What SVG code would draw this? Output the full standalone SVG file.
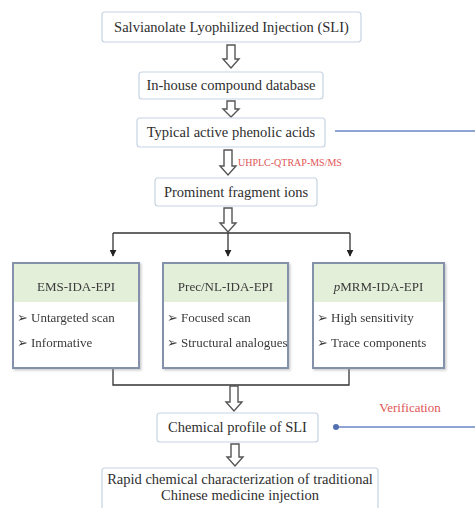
<svg xmlns="http://www.w3.org/2000/svg" width="475" height="508" viewBox="0 0 475 508">
<defs>
<style>
.box{fill:#ffffff;stroke:#c5d3e3;stroke-width:1.2;}
.mbox{fill:#ffffff;stroke:#8391ab;stroke-width:2;}
.hdr{fill:#e3efd8;}
.t{font-family:"Liberation Serif","Times New Roman",serif;font-size:14.5px;fill:#2e2e2e;text-anchor:middle;}
.h{font-family:"Liberation Serif","Times New Roman",serif;font-size:13px;fill:#3a3a3a;text-anchor:middle;}
.b{font-family:"Liberation Serif","Times New Roman",serif;font-size:13px;fill:#3a3a3a;}
.red{font-family:"Liberation Serif","Times New Roman",serif;fill:#e05555;}
.hollow{fill:#ffffff;stroke:#555555;stroke-width:1.4;stroke-linejoin:miter;}
.line{fill:none;stroke:#333333;stroke-width:1.3;}
.blue{fill:none;stroke:#8fa5d4;stroke-width:2.2;}
</style>
<marker id="ah" viewBox="0 0 10 10" refX="9" refY="5" markerWidth="7" markerHeight="7" orient="auto" markerUnits="userSpaceOnUse">
<path d="M0,0 L10,5 L0,10 Z" fill="#222222"/>
</marker>
<marker id="dot" viewBox="0 0 10 10" refX="5" refY="5" markerWidth="6" markerHeight="6" markerUnits="userSpaceOnUse">
<circle cx="5" cy="5" r="5" fill="#5570b0"/>
</marker>
<filter id="sh" x="-10%" y="-10%" width="125%" height="125%">
<feDropShadow dx="1.5" dy="1.5" stdDeviation="1" flood-color="#999999" flood-opacity="0.5"/>
</filter>
</defs>

<g id="connectors">
<path class="hollow" d="M227,45 H235 V59 H239 L231,68 L223,59 H227 Z"/>
<path class="hollow" d="M227,101 H235 V109 H239 L231,117 L223,109 H227 Z"/>
<path class="hollow" d="M224,150 H232 V166 H236 L228,175 L220,166 H224 Z"/>
<path class="hollow" d="M224,208 H232 V223 H236 L228,232 L220,223 H224 Z"/>
<path class="line" d="M113,233 H350"/>
<path class="line" d="M113,233 V256" marker-end="url(#ah)"/>
<path class="line" d="M228,233 V256" marker-end="url(#ah)"/>
<path class="line" d="M350,233 V256" marker-end="url(#ah)"/>
<path class="line" d="M113,368 V385 H349 V368"/>
<path class="hollow" d="M230,386 H238 V402 H242 L234,411 L226,402 H230 Z"/>
<path class="hollow" d="M231,444 H239 V457 H243 L235,466 L227,457 H231 Z"/>
<path class="blue" d="M335,131 H495 V427 H336" marker-end="url(#dot)"/>
<text class="red" x="238" y="166" font-size="10">UHPLC-QTRAP-MS/MS</text>
<text class="red" x="410" y="412" font-size="13" text-anchor="middle">Verification</text>
</g>

<g id="sli">
<rect class="box" x="102" y="12" width="259" height="30" rx="3"/>
<text class="t" x="231.5" y="32">Salvianolate Lyophilized Injection (SLI)</text>
</g>

<g id="database">
<rect class="box" x="139" y="72" width="184" height="27" rx="3"/>
<text class="t" x="231" y="90">In-house compound database</text>
</g>

<g id="phenolic">
<rect class="box" x="137" y="118" width="188" height="29" rx="3"/>
<text class="t" x="231" y="137">Typical active phenolic acids</text>
</g>

<g id="fragment">
<rect class="box" x="155" y="178" width="162" height="28" rx="3"/>
<text class="t" x="236" y="197">Prominent fragment ions</text>
</g>

<g id="ems" filter="url(#sh)">
<rect class="mbox" x="13" y="263" width="126" height="105"/>
<rect class="hdr" x="14" y="264" width="124" height="38"/>
<text class="h" x="76" y="291">EMS-IDA-EPI</text>
<text class="b" x="17" y="322">➢</text>
<text class="b" x="31" y="322">Untargeted scan</text>
<text class="b" x="17" y="347">➢</text>
<text class="b" x="31" y="347">Informative</text>
</g>

<g id="precnl" filter="url(#sh)">
<rect class="mbox" x="163" y="263" width="125" height="105"/>
<rect class="hdr" x="164" y="264" width="123" height="38"/>
<text class="h" x="225.5" y="291">Prec/NL-IDA-EPI</text>
<text class="b" x="167" y="322">➢</text>
<text class="b" x="181" y="322">Focused scan</text>
<text class="b" x="167" y="347">➢</text>
<text class="b" x="181" y="347">Structural analogues</text>
</g>

<g id="pmrm" filter="url(#sh)">
<rect class="mbox" x="313" y="263" width="131" height="105"/>
<rect class="hdr" x="314" y="264" width="129" height="38"/>
<text class="h" x="378.5" y="291"><tspan font-style="italic">p</tspan>MRM-IDA-EPI</text>
<text class="b" x="317" y="322">➢</text>
<text class="b" x="331" y="322">High sensitivity</text>
<text class="b" x="317" y="347">➢</text>
<text class="b" x="331" y="347">Trace components</text>
</g>

<g id="profile">
<rect class="box" x="157" y="413" width="161" height="29" rx="3"/>
<text class="t" x="237.5" y="432">Chemical profile of SLI</text>
</g>

<g id="rapid">
<rect class="box" x="102" y="468" width="276" height="45" rx="3"/>
<text class="t" x="240" y="484">Rapid chemical characterization of traditional</text>
<text class="t" x="240" y="500">Chinese medicine injection</text>
</g>
</svg>
